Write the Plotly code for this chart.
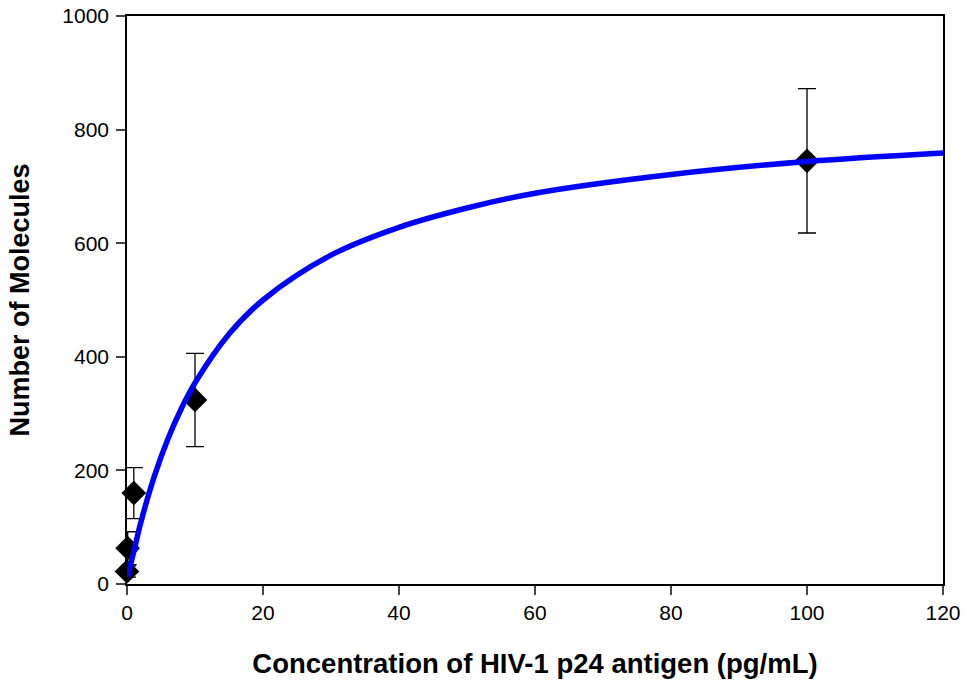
import plotly.graph_objects as go

# Measured data points
conc = [0.0, 0.1, 1.0, 10.0, 100.0]
molecules = [22, 63, 160, 324, 745]
err = [10, 29, 45, 82, 127]

# Fitted curve, values
curve_x = [0.05, 1, 2, 4, 6, 8, 10, 15, 20, 30, 40, 50, 60, 80, 100, 120]
curve_y = [12, 57, 107, 189, 255, 309, 354, 440, 500, 579, 628, 662, 688, 721, 744, 759]

x_ticks = [0, 20, 40, 60, 80, 100, 120]
y_ticks = [0, 200, 400, 600, 800, 1000]

fig = go.Figure()
fig.add_trace(go.Scatter(
    x=conc, y=molecules, mode="markers",
    marker=dict(symbol="diamond", size=19, color="black"),
    error_y=dict(type="data", array=err, visible=True, color="black", thickness=1.3, width=9),
    showlegend=False, cliponaxis=False,
))
fig.add_trace(go.Scatter(
    x=curve_x, y=curve_y, mode="lines",
    line=dict(color="#0000ff", width=5.5, shape="spline"),
    showlegend=False,
))

font = "Liberation Sans, Arial, sans-serif"
fig.update_layout(
    width=965, height=687,
    margin=dict(l=127, r=22, t=16, b=103),
    paper_bgcolor="white", plot_bgcolor="white",
    font=dict(family=font, color="black", size=21),
    xaxis=dict(
        range=[0, 120], tickvals=x_ticks, ticks="outside", ticklen=9, tickwidth=1.5,
        showline=True, linecolor="black", linewidth=1.5, mirror=True, showgrid=False, zeroline=False,
        tickfont=dict(size=21), automargin=False,
        title=dict(text="<b>Concentration of HIV-1 p24 antigen (pg/mL)</b>", font=dict(size=27.5), standoff=31),
    ),
    yaxis=dict(
        range=[0, 1000], tickvals=y_ticks, ticks="outside", ticklen=9, tickwidth=1.5,
        showline=True, linecolor="black", linewidth=1.5, mirror=True, showgrid=False, zeroline=False,
        tickfont=dict(size=21), automargin=False, ticklabelstandoff=3,
        title=dict(text="<b>Number of Molecules</b>", font=dict(size=27), standoff=25),
    ),
)
fig.write_html("out.html")
